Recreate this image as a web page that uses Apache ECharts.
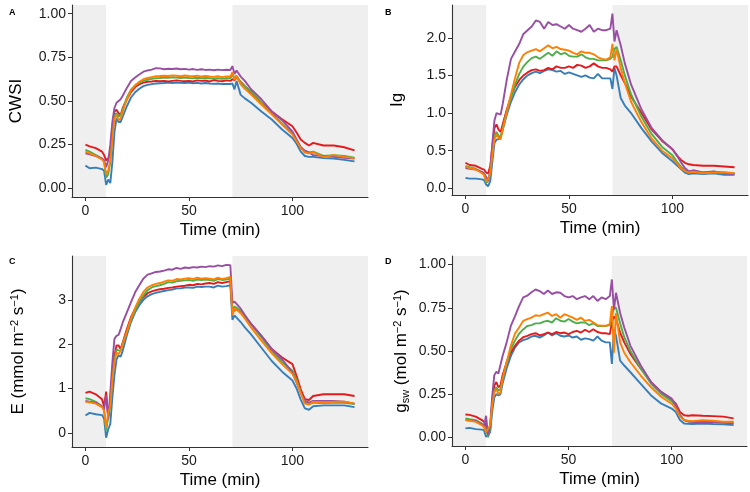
<!DOCTYPE html>
<html>
<head>
<meta charset="utf-8">
<script src="https://cdn.jsdelivr.net/npm/echarts@6/dist/echarts.min.js"></script>
<style>html,body{margin:0;padding:0;background:#fff}#c{width:750px;height:492px}</style>
</head>
<body>
<div id="c"></div>
<script>
// ---------- DATA ----------
const timeMin = [0,2,5,8,9,10,11,12,13,14,15,16,17,18,20,22,24,26,28,30,32,34,36,38,40,42,44,46,48,50,52,54,56,58,60,62,64,66,68,70,71,72,73,75,77,80,85,90,95,100,102,104,106,108,110,115,120,125,130];
const shadeEnd = 10;      // end of first shaded phase (min)
const shadeStart = 71;    // start of second shaded phase (min)
const panelLetters = ['A','B','C','D'];
const xTicks = [0,50,100];

// Panel A: CWSI
const cwsiRed    = [0.25,0.24,0.23,0.21,0.19,0.16,0.17,0.2,0.32,0.44,0.45,0.43,0.42,0.46,0.51,0.55,0.58,0.595,0.605,0.61,0.612,0.615,0.613,0.615,0.612,0.615,0.618,0.615,0.613,0.615,0.612,0.618,0.615,0.617,0.612,0.62,0.615,0.613,0.618,0.615,0.625,0.62,0.635,0.61,0.585,0.55,0.49,0.44,0.395,0.355,0.32,0.28,0.26,0.245,0.26,0.245,0.245,0.235,0.217];
const cwsiOrange = [0.21,0.2,0.185,0.165,0.15,0.08,0.1,0.16,0.28,0.40,0.42,0.39,0.40,0.44,0.51,0.56,0.59,0.61,0.625,0.632,0.637,0.642,0.643,0.645,0.643,0.647,0.645,0.642,0.646,0.643,0.642,0.645,0.64,0.643,0.64,0.638,0.642,0.637,0.64,0.64,0.665,0.62,0.64,0.596,0.57,0.538,0.48,0.423,0.365,0.308,0.27,0.23,0.205,0.2,0.205,0.18,0.19,0.18,0.173];
const cwsiGreen  = [0.22,0.21,0.19,0.17,0.155,0.06,0.08,0.15,0.3,0.42,0.43,0.41,0.42,0.45,0.52,0.565,0.59,0.605,0.615,0.622,0.627,0.63,0.632,0.635,0.633,0.636,0.634,0.632,0.635,0.632,0.63,0.633,0.63,0.632,0.63,0.628,0.63,0.627,0.63,0.63,0.65,0.63,0.645,0.606,0.585,0.554,0.49,0.43,0.37,0.315,0.275,0.235,0.21,0.205,0.21,0.185,0.19,0.185,0.175];
const cwsiBlue   = [0.13,0.115,0.118,0.11,0.1,0.02,0.05,0.03,0.15,0.32,0.40,0.38,0.38,0.41,0.47,0.52,0.55,0.57,0.585,0.592,0.597,0.6,0.602,0.603,0.605,0.603,0.606,0.604,0.603,0.605,0.602,0.604,0.6,0.603,0.6,0.598,0.6,0.597,0.598,0.597,0.6,0.567,0.615,0.535,0.515,0.49,0.44,0.394,0.337,0.288,0.255,0.21,0.185,0.18,0.18,0.173,0.17,0.163,0.154];
const cwsiPurple = [0.2,0.195,0.185,0.17,0.16,0.12,0.16,0.25,0.38,0.46,0.49,0.50,0.51,0.53,0.575,0.615,0.635,0.652,0.668,0.675,0.68,0.688,0.687,0.682,0.685,0.683,0.686,0.682,0.684,0.68,0.683,0.678,0.682,0.678,0.68,0.676,0.68,0.677,0.679,0.678,0.70,0.655,0.675,0.64,0.615,0.567,0.51,0.44,0.39,0.325,0.28,0.235,0.215,0.205,0.19,0.185,0.18,0.175,0.17];

// Panel B: Ig
const igRed    = [0.34,0.31,0.30,0.26,0.25,0.21,0.2,0.3,0.55,0.8,0.85,0.78,0.75,0.85,1.05,1.22,1.35,1.44,1.50,1.54,1.57,1.58,1.56,1.57,1.60,1.58,1.62,1.60,1.60,1.62,1.60,1.64,1.63,1.60,1.62,1.66,1.62,1.60,1.60,1.58,1.55,1.62,1.62,1.50,1.40,1.22,1.00,0.78,0.63,0.52,0.44,0.38,0.34,0.32,0.31,0.30,0.30,0.29,0.28];
const igOrange = [0.29,0.27,0.25,0.2,0.18,0.09,0.12,0.2,0.45,0.65,0.72,0.67,0.65,0.78,1.02,1.25,1.47,1.67,1.77,1.81,1.83,1.85,1.82,1.86,1.90,1.86,1.88,1.85,1.84,1.83,1.80,1.78,1.82,1.80,1.80,1.78,1.74,1.72,1.71,1.74,1.92,1.70,1.85,1.60,1.40,1.15,0.88,0.66,0.50,0.40,0.34,0.27,0.23,0.21,0.22,0.20,0.21,0.21,0.20];
const igGreen  = [0.30,0.28,0.26,0.21,0.19,0.07,0.1,0.2,0.48,0.70,0.75,0.70,0.68,0.80,1.02,1.2,1.38,1.52,1.62,1.68,1.73,1.75,1.72,1.76,1.80,1.76,1.82,1.78,1.80,1.76,1.75,1.75,1.78,1.74,1.72,1.72,1.70,1.70,1.70,1.72,1.75,1.85,1.88,1.70,1.50,1.25,0.95,0.72,0.55,0.44,0.36,0.29,0.24,0.22,0.23,0.21,0.22,0.21,0.20];
const igBlue   = [0.14,0.13,0.13,0.12,0.11,0.05,0.03,0.1,0.35,0.6,0.65,0.65,0.68,0.78,0.98,1.15,1.28,1.38,1.45,1.50,1.53,1.55,1.53,1.56,1.58,1.57,1.55,1.56,1.52,1.54,1.52,1.50,1.48,1.50,1.47,1.46,1.52,1.46,1.46,1.46,1.32,1.60,1.50,1.2,1.1,1.0,0.8,0.62,0.47,0.36,0.31,0.26,0.21,0.19,0.20,0.19,0.20,0.18,0.18];
const igPurple = [0.27,0.26,0.25,0.22,0.2,0.15,0.1,0.25,0.6,0.9,1.0,0.99,0.98,1.12,1.45,1.72,1.82,1.92,2.05,2.10,2.15,2.23,2.21,2.12,2.21,2.17,2.18,2.15,2.12,2.17,2.12,2.10,2.08,2.12,2.17,2.08,2.12,2.10,2.10,2.12,2.32,1.95,2.10,1.90,1.66,1.38,1.05,0.80,0.64,0.52,0.45,0.35,0.27,0.225,0.24,0.21,0.225,0.20,0.19];

// Panel C: E
const eRed    = [0.9,0.93,0.87,0.76,0.6,0.93,0.36,0.7,1.36,1.74,1.97,1.97,1.89,2.04,2.34,2.61,2.80,2.95,3.06,3.15,3.19,3.22,3.24,3.25,3.27,3.28,3.30,3.31,3.32,3.34,3.33,3.36,3.35,3.37,3.38,3.36,3.40,3.38,3.40,3.42,2.72,2.76,2.80,2.72,2.62,2.46,2.19,1.89,1.70,1.55,1.28,0.98,0.76,0.74,0.83,0.87,0.87,0.87,0.83];
const eOrange = [0.70,0.69,0.66,0.58,0.5,0.11,0.45,0.6,1.2,1.6,1.81,1.78,1.85,2.0,2.28,2.58,2.82,3.02,3.18,3.28,3.33,3.36,3.38,3.41,3.44,3.43,3.47,3.46,3.48,3.49,3.47,3.50,3.48,3.49,3.48,3.46,3.50,3.47,3.49,3.52,2.65,2.80,2.78,2.70,2.58,2.38,2.08,1.80,1.55,1.33,1.15,0.90,0.66,0.64,0.70,0.68,0.70,0.70,0.66];
const eGreen  = [0.78,0.76,0.7,0.6,0.52,0.05,0.35,0.6,1.25,1.65,1.88,1.86,1.85,2.0,2.28,2.55,2.76,2.95,3.10,3.22,3.28,3.31,3.33,3.36,3.40,3.39,3.42,3.43,3.44,3.45,3.43,3.46,3.45,3.46,3.45,3.43,3.47,3.45,3.46,3.48,2.75,2.85,2.82,2.75,2.63,2.45,2.15,1.85,1.60,1.40,1.2,0.92,0.68,0.64,0.68,0.67,0.68,0.68,0.65];
const eBlue   = [0.39,0.45,0.42,0.40,0.32,-0.11,0.08,0.2,0.8,1.3,1.65,1.75,1.72,1.85,2.2,2.5,2.72,2.88,3.0,3.08,3.13,3.16,3.18,3.20,3.22,3.23,3.26,3.26,3.28,3.28,3.27,3.30,3.29,3.30,3.30,3.28,3.32,3.30,3.31,3.33,2.55,2.65,2.60,2.5,2.38,2.22,1.92,1.62,1.38,1.18,1.0,0.75,0.55,0.52,0.6,0.62,0.62,0.62,0.58];
const ePurple = [0.72,0.7,0.68,0.6,0.53,0.85,0.3,0.9,1.59,2.12,2.19,2.21,2.34,2.49,2.72,2.95,3.17,3.33,3.48,3.57,3.60,3.63,3.64,3.66,3.69,3.68,3.72,3.70,3.73,3.72,3.74,3.73,3.75,3.74,3.76,3.75,3.78,3.76,3.79,3.78,2.93,2.96,2.91,2.80,2.66,2.46,2.19,1.89,1.66,1.36,1.13,0.91,0.72,0.68,0.72,0.72,0.72,0.70,0.66];

// Panel D: gsw
const gswRed    = [0.132,0.13,0.12,0.1,0.09,0.07,0.02,0.06,0.205,0.30,0.32,0.29,0.30,0.36,0.435,0.49,0.53,0.56,0.58,0.588,0.598,0.603,0.59,0.598,0.607,0.598,0.61,0.603,0.607,0.598,0.61,0.617,0.607,0.623,0.61,0.626,0.61,0.603,0.603,0.598,0.665,0.70,0.684,0.607,0.55,0.483,0.397,0.32,0.262,0.22,0.195,0.147,0.128,0.125,0.128,0.125,0.123,0.12,0.11];
const gswOrange = [0.10,0.097,0.09,0.07,0.06,0.03,0.05,0.07,0.19,0.26,0.28,0.25,0.26,0.34,0.435,0.53,0.60,0.636,0.674,0.684,0.693,0.707,0.703,0.713,0.722,0.703,0.713,0.693,0.713,0.703,0.693,0.68,0.693,0.674,0.68,0.665,0.65,0.646,0.646,0.655,0.76,0.49,0.72,0.55,0.49,0.435,0.358,0.29,0.234,0.195,0.167,0.12,0.10,0.096,0.094,0.10,0.096,0.09,0.09];
const gswGreen  = [0.11,0.105,0.10,0.08,0.07,0.05,0.0,0.05,0.2,0.27,0.29,0.27,0.28,0.33,0.43,0.51,0.56,0.60,0.625,0.645,0.65,0.66,0.66,0.67,0.675,0.665,0.69,0.675,0.67,0.685,0.67,0.66,0.665,0.665,0.65,0.66,0.645,0.645,0.645,0.65,0.70,0.75,0.75,0.66,0.58,0.50,0.40,0.31,0.25,0.21,0.18,0.13,0.10,0.092,0.09,0.09,0.09,0.085,0.085];
const gswBlue   = [0.052,0.055,0.048,0.045,0.042,0.004,0.013,0.03,0.15,0.23,0.25,0.243,0.25,0.31,0.40,0.47,0.52,0.55,0.563,0.57,0.584,0.588,0.578,0.59,0.607,0.59,0.603,0.588,0.584,0.59,0.578,0.584,0.565,0.573,0.569,0.56,0.584,0.56,0.55,0.55,0.425,0.626,0.588,0.444,0.416,0.377,0.31,0.243,0.195,0.167,0.147,0.10,0.08,0.078,0.077,0.08,0.077,0.075,0.071];
const gswPurple = [0.10,0.098,0.094,0.075,0.06,0.125,0.013,0.07,0.24,0.36,0.38,0.37,0.42,0.47,0.55,0.645,0.70,0.76,0.81,0.82,0.84,0.856,0.847,0.83,0.85,0.83,0.84,0.837,0.818,0.81,0.818,0.80,0.81,0.818,0.80,0.818,0.79,0.81,0.80,0.818,0.914,0.74,0.837,0.72,0.636,0.53,0.416,0.32,0.262,0.224,0.186,0.128,0.10,0.092,0.09,0.086,0.09,0.086,0.08];

const yTicksA = [0,0.25,0.5,0.75,1];
const yTicksB = [0,0.5,1,1.5,2];
const yTicksC = [0,1,2,3];
const yTicksD = [0,0.25,0.5,0.75,1];

// ---------- STYLE / LAYOUT ----------
const colors = {red:'#E41A1C', blue:'#377EB8', green:'#4DAF4A', purple:'#984EA3', orange:'#FF7F00'};
const FONT = 'Liberation Sans, Arial, sans-serif';
const xMin = -6.5, xMax = 136.5;

const panels = [
  {grid:{left:72,top:5,width:296,height:192}, yMin:-0.05, yMax:1.05, ticks:yTicksA, dec:2, name:'CWSI', nameGap:47,
   data:{red:cwsiRed, blue:cwsiBlue, green:cwsiGreen, purple:cwsiPurple, orange:cwsiOrange}},
  {grid:{left:452,top:5,width:296,height:190}, yMin:-0.088, yMax:2.435, ticks:yTicksB, dec:1, name:'Ig', nameGap:46,
   data:{red:igRed, blue:igBlue, green:igGreen, purple:igPurple, orange:igOrange}},
  {grid:{left:72,top:256,width:296,height:191}, yMin:-0.32, yMax:3.99, ticks:yTicksC, dec:0, name:'E (mmol m{sup|−2} s{sup|−1})', nameGap:44,
   data:{red:eRed, blue:eBlue, green:eGreen, purple:ePurple, orange:eOrange}},
  {grid:{left:452,top:256,width:295,height:190}, yMin:-0.05, yMax:1.05, ticks:yTicksD, dec:2, name:'g{sub|sw} (mol m{sup|−2} s{sup|−1})', nameGap:41,
   data:{red:gswRed, blue:gswBlue, green:gswGreen, purple:gswPurple, orange:gswOrange}}
];

const axisLine = {show:true, onZero:false, lineStyle:{color:'#333', width:1.1}};
const grid=[], xAxis=[], yAxis=[], series=[], title=[];
const order = ['blue','red','green','purple','orange'];

panels.forEach((p,i)=>{
  grid.push(p.grid);
  xAxis.push({type:'value', gridIndex:i, min:xMin, max:xMax, z:10,
    axisLine, axisTick:{show:true, length:4, lineStyle:{color:'#333'}, customValues:xTicks},
    axisLabel:{customValues:xTicks, color:'#1a1a1a', fontSize:14, fontFamily:FONT, margin:7},
    splitLine:{show:false},
    name:'Time (min)', nameLocation:'middle', nameGap:25,
    nameTextStyle:{fontSize:17, color:'#000', fontFamily:FONT}});
  yAxis.push({type:'value', gridIndex:i, min:p.yMin, max:p.yMax, z:10,
    axisLine, axisTick:{show:true, length:4, lineStyle:{color:'#333'}, customValues:p.ticks},
    axisLabel:{customValues:p.ticks, color:'#1a1a1a', fontSize:14, fontFamily:FONT, margin:6,
      formatter:v=>Number(v).toFixed(p.dec)},
    splitLine:{show:false},
    name:p.name, nameLocation:'middle', nameGap:p.nameGap, nameRotate:90,
    nameTextStyle:{fontSize:17, color:'#000', fontFamily:FONT,
      rich:{sup:{fontSize:11, verticalAlign:'top', color:'#000', fontFamily:FONT, padding:[0,0,8,0]},
            sub:{fontSize:11, verticalAlign:'bottom', color:'#000', fontFamily:FONT, padding:[6,0,0,0]}}}});
  // shading
  series.push({type:'line', xAxisIndex:i, yAxisIndex:i, data:[], silent:true, z:0,
    markArea:{silent:true, itemStyle:{color:'#efefef'},
      data:[[{xAxis:xMin},{xAxis:shadeEnd}],[{xAxis:shadeStart},{xAxis:xMax}]]}});
  order.forEach(k=>{
    series.push({type:'line', xAxisIndex:i, yAxisIndex:i, showSymbol:false, symbol:'none',
      lineStyle:{color:colors[k], width:1.9}, itemStyle:{color:colors[k]}, z:3,
      data:timeMin.map((t,j)=>[t,p.data[k][j]])});
  });
  title.push({text:panelLetters[i], left:(i%2?380:4), top:(i<2?3:252),
    textStyle:{fontSize:9, fontWeight:'bold', color:'#000', fontFamily:FONT}});
});

const chart = echarts.init(document.getElementById('c'), null, {renderer:'canvas'});
chart.setOption({animation:false, backgroundColor:'#fff', title, grid, xAxis, yAxis, series});
</script>
</body>
</html>
